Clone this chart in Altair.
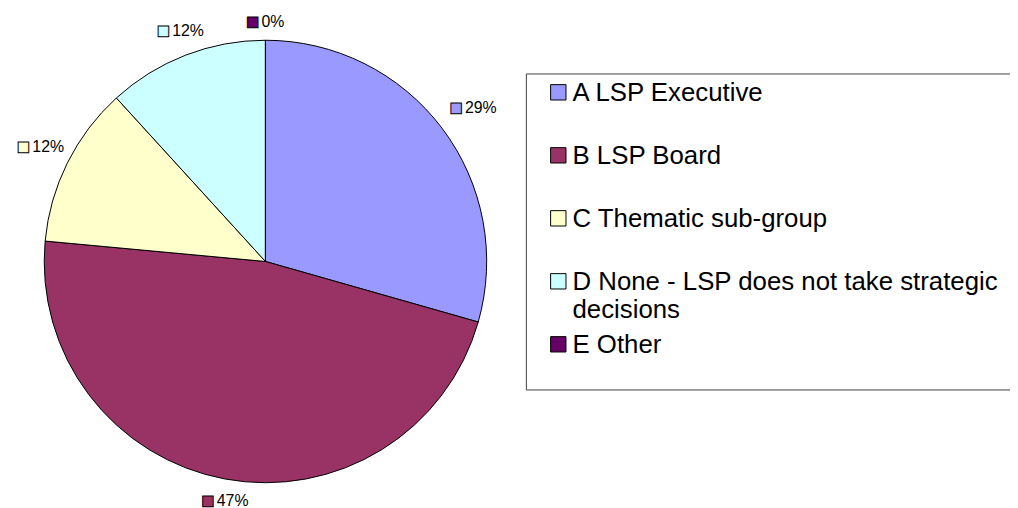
import altair as alt
import pandas as pd

keys = ["A", "B", "C", "D", "E"]
legend_labels = [
    "A LSP Executive",
    "B LSP Board",
    "C Thematic sub-group",
    "D None - LSP does not take strategic\ndecisions",
    "E Other",
]
counts = [5, 8, 2, 2, 0]
colors = ["#9999FF", "#993366", "#FFFFCC", "#CCFFFF", "#660066"]

df = pd.DataFrame({"key": keys, "label": legend_labels, "count": counts, "idx": list(range(len(keys)))})
box_df = pd.DataFrame({"k": [0]})

cx, cy = 259.5, 253.5
color = alt.Color("key:N", scale=alt.Scale(domain=keys, range=colors), legend=None)

pie = alt.Chart(df).mark_arc(outerRadius=223, stroke="black", strokeWidth=1).encode(
    theta=alt.Theta("count:Q", stack=True), color=color, order=alt.Order("idx:Q"),
    x=alt.value(cx), y=alt.value(cy)
)

labels_base = (
    alt.Chart(df)
    .transform_joinaggregate(total="sum(count)")
    .transform_window(cum="sum(count)", sort=[alt.SortField("idx")], frame=[None, 0])
    .transform_calculate(
        pct="format(datum.count / datum.total, '.0%')",
        mid="(datum.cum - datum.count / 2) / datum.total * 2 * PI",
    )
    .transform_calculate(r="233 + 24 * abs(sin(datum.mid)) + 8 * abs(cos(datum.mid))")
)
ltheta = alt.Theta("mid:Q", scale=None)
lrad = alt.Radius("r:Q", scale=None)

label_sq = labels_base.mark_text(
    text="■", stroke="black", strokeWidth=1, fontSize=14,
    font="DejaVu Sans", dx=-13, align="center", baseline="middle"
).encode(theta=ltheta, radius=lrad, color=color, x=alt.value(cx), y=alt.value(cy))

label_txt = labels_base.mark_text(
    fontSize=16, font="Liberation Sans", dx=-4, align="left",
    baseline="middle", color="black"
).encode(theta=ltheta, radius=lrad, text="pct:N", x=alt.value(cx), y=alt.value(cy))

box = alt.Chart(box_df).mark_rect(fill="white", stroke="#404040", strokeWidth=1).encode(
    x=alt.value(522.5), x2=alt.value(1030), y=alt.value(64.5), y2=alt.value(383)
)

ypos = alt.Y("key:N", scale=alt.Scale(type="point", domain=keys, range=[83, 337], padding=0), axis=None)

leg_sq = alt.Chart(df).mark_square(size=240, stroke="black", strokeWidth=1, opacity=1).encode(
    x=alt.value(554.7), y=ypos, color=color
)

leg_txt = alt.Chart(df).mark_text(
    align="left", baseline="alphabetic", dy=9, fontSize=26, font="Liberation Sans",
    lineBreak="\n", lineHeight=28, color="black"
).encode(x=alt.value(569), y=ypos, text="label:N")

chart = (
    alt.layer(pie, label_sq, label_txt, box, leg_sq, leg_txt)
    .properties(width=1010, height=500, autosize=alt.AutoSizeParams(type="none"), padding=0)
    .configure_view(stroke=None)
)

chart.save("out.html", embed_options={"renderer": "svg", "actions": False})
